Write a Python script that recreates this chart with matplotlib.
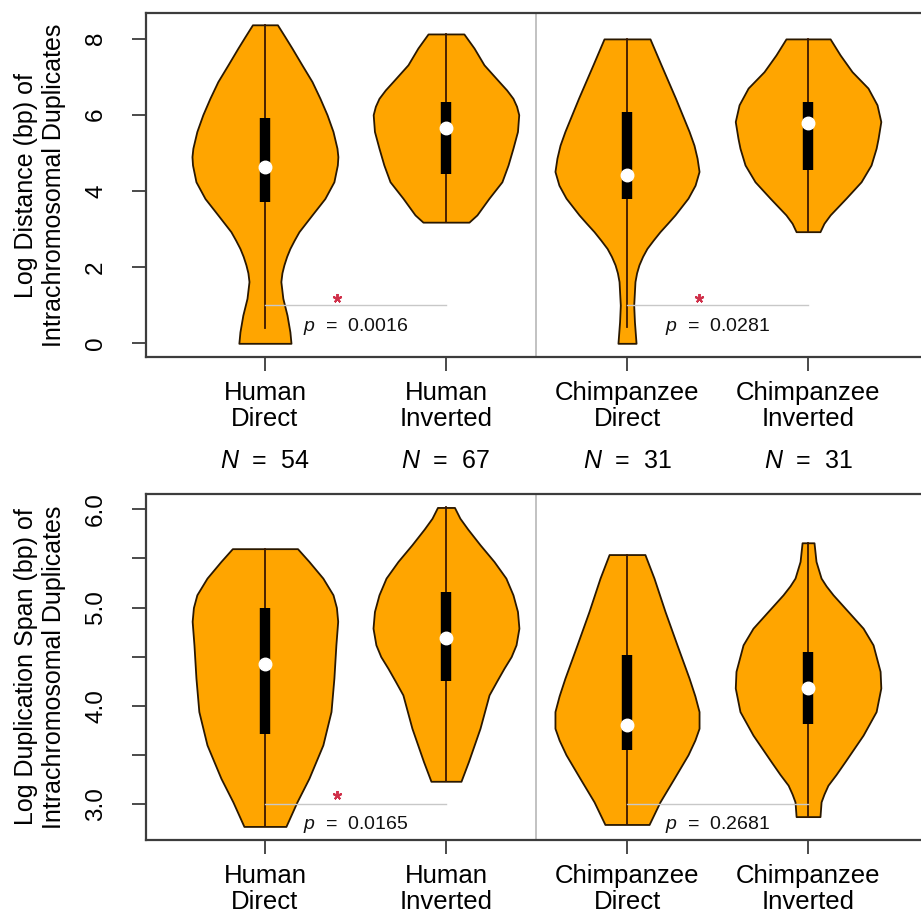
import numpy as np
import matplotlib.pyplot as plt
from matplotlib import transforms

plt.rcParams['font.family'] = ['Liberation Sans', 'DejaVu Sans']
plt.rcParams['mathtext.fontset'] = 'custom'
plt.rcParams['mathtext.it'] = 'Liberation Sans:italic'
plt.rcParams['mathtext.rm'] = 'Liberation Sans'

groups = ['Human\nDirect', 'Human\nInverted', 'Chimpanzee\nDirect', 'Chimpanzee\nInverted']
n_counts = [54, 67, 31, 31]
positions = [1, 2, 3, 4]

# --- log distance between duplicates: violin outlines (y, half width) ---
dist_hd_y = [0.0, 0.30, 0.74, 1.18, 1.62, 1.85, 2.06, 2.28, 2.49, 2.71, 2.93, 3.15, 3.37, 3.80, 4.24, 4.68, 4.90, 5.12, 5.56, 6.0, 6.43, 6.87, 7.31, 7.75, 8.05, 8.36]
dist_hd_w = [0.144, 0.138, 0.122, 0.099, 0.088, 0.094, 0.105, 0.12, 0.138, 0.162, 0.188, 0.224, 0.26, 0.331, 0.381, 0.400, 0.403, 0.398, 0.376, 0.343, 0.304, 0.26, 0.204, 0.149, 0.11, 0.069]
dist_hi_y = [3.18, 3.37, 3.81, 4.24, 4.68, 5.12, 5.56, 6.0, 6.22, 6.43, 6.65, 6.87, 7.31, 7.75, 8.12]
dist_hi_w = [0.127, 0.171, 0.238, 0.309, 0.343, 0.37, 0.395, 0.402, 0.39, 0.37, 0.335, 0.293, 0.21, 0.155, 0.099]
dist_cd_y = [0.0, 0.57, 1.0, 1.62, 1.85, 2.06, 2.28, 2.49, 2.71, 2.93, 3.15, 3.37, 3.81, 4.15, 4.51, 4.86, 5.2, 5.56, 6.43, 7.31, 7.99]
dist_cd_w = [0.05, 0.041, 0.037, 0.044, 0.053, 0.066, 0.086, 0.11, 0.145, 0.182, 0.224, 0.265, 0.337, 0.376, 0.398, 0.387, 0.37, 0.343, 0.268, 0.188, 0.127]
dist_ci_y = [2.93, 3.15, 3.37, 3.81, 4.24, 4.68, 5.12, 5.38, 5.82, 6.26, 6.70, 7.13, 7.57, 7.99]
dist_ci_w = [0.066, 0.088, 0.122, 0.21, 0.293, 0.348, 0.376, 0.387, 0.402, 0.381, 0.331, 0.243, 0.177, 0.122]

dist_q1 = [3.70, 4.44, 3.79, 4.55]
dist_med = [4.64, 5.65, 4.42, 5.78]
dist_q3 = [5.91, 6.33, 6.08, 6.33]
dist_lo = [0.39, 3.18, 0.44, 2.93]
dist_hi = [8.36, 8.12, 7.99, 7.99]
dist_p = ['0.0016', '0.0281']
dist_signif = [True, True]

# --- log duplication span ---
span_hd_y = [2.77, 3.02, 3.26, 3.60, 3.94, 4.28, 4.62, 4.86, 5.00, 5.13, 5.30, 5.47, 5.60]
span_hd_w = [0.116, 0.177, 0.243, 0.32, 0.365, 0.381, 0.392, 0.402, 0.395, 0.376, 0.32, 0.243, 0.18]
span_hi_y = [3.23, 3.43, 3.77, 4.11, 4.25, 4.38, 4.50, 4.62, 4.79, 4.96, 5.13, 5.30, 5.47, 5.64, 5.80, 5.91, 6.02]
span_hi_w = [0.083, 0.124, 0.188, 0.238, 0.28, 0.32, 0.36, 0.387, 0.403, 0.395, 0.37, 0.331, 0.265, 0.188, 0.12, 0.077, 0.047]
span_cd_y = [2.79, 3.02, 3.26, 3.50, 3.65, 3.77, 3.94, 4.10, 4.28, 4.62, 4.96, 5.30, 5.54]
span_cd_w = [0.122, 0.182, 0.26, 0.337, 0.375, 0.398, 0.398, 0.375, 0.343, 0.276, 0.21, 0.149, 0.099]
span_ci_y = [2.87, 3.02, 3.10, 3.19, 3.30, 3.43, 3.70, 3.94, 4.18, 4.35, 4.62, 4.79, 4.96, 5.13, 5.22, 5.30, 5.47, 5.66]
span_ci_w = [0.066, 0.072, 0.088, 0.11, 0.155, 0.204, 0.304, 0.376, 0.402, 0.398, 0.359, 0.304, 0.221, 0.138, 0.1, 0.072, 0.044, 0.033]

span_q1 = [3.71, 4.25, 3.55, 3.81]
span_med = [4.43, 4.69, 3.80, 4.18]
span_q3 = [5.00, 5.16, 4.52, 4.55]
span_lo = [2.77, 3.23, 2.79, 2.87]
span_hi = [5.60, 6.02, 5.54, 5.66]
span_p = ['0.0165', '0.2681']
span_signif = [True, False]

fill = '#FFA500'
edge = '#2a1800'


def draw_panel(ax, shapes, q1, med, q3, lo, hi, pvals, signif, bar_y, p_y, star_y):
    for pos, (ys, ws) in zip(positions, shapes):
        ys = np.array(ys)
        ws = np.array(ws)
        ax.fill_betweenx(ys, pos - ws, pos + ws, facecolor=fill, edgecolor=edge, lw=1.3,
                         joinstyle='round', zorder=2)
    for i, pos in enumerate(positions):
        ax.plot([pos, pos], [lo[i], hi[i]], color='#3a1800', lw=1.3, zorder=3)
        ax.plot([pos, pos], [q1[i], q3[i]], color='black', lw=7.5, solid_capstyle='butt', zorder=4)
        ax.plot(pos, med[i], 'o', color='white', ms=9, mec='white', zorder=5)
    # comparison brackets between direct and inverted
    for k, (a, b) in enumerate([(1, 2), (3, 4)]):
        ax.plot([a, b], [bar_y, bar_y], color='#c8c8c8', lw=1.0, zorder=6)
        ax.text((a + b) / 2, p_y, r'$\it{p}$  =  ' + pvals[k], ha='center', va='center',
                fontsize=14, color='#111111', zorder=7)
        if signif[k]:
            ax.plot(a + 0.4, star_y, marker=(5, 2, 0), color='#d0304a', ms=6.5, mew=1.4, zorder=7)
    ax.axvline(2.5, color='#bdbdbd', lw=1.3, zorder=1)
    ax.set_xlim(0.343, 4.657)
    ax.set_xticks(positions)
    ax.set_xticklabels(groups, fontsize=18.5, linespacing=1.15)
    for s in ax.spines.values():
        s.set_color('#3c3c3c')
        s.set_linewidth(1.6)
    ax.tick_params(axis='both', length=10, width=1.3, color='#3c3c3c')
    ax.tick_params(axis='x', pad=7)
    ax.tick_params(axis='y', labelrotation=90, labelsize=17.5, pad=18)


fig = plt.figure(figsize=(9.21, 9.15), dpi=100)
ax1 = fig.add_axes([0.1585, 0.6098, 0.848, 0.376])
ax2 = fig.add_axes([0.1585, 0.082, 0.848, 0.378])

draw_panel(ax1,
           [(dist_hd_y, dist_hd_w), (dist_hi_y, dist_hi_w), (dist_cd_y, dist_cd_w), (dist_ci_y, dist_ci_w)],
           dist_q1, dist_med, dist_q3, dist_lo, dist_hi, dist_p, dist_signif,
           bar_y=1.0, p_y=0.44, star_y=1.2)
ax1.set_ylim(-0.36, 8.67)
ax1.set_yticks([0, 2, 4, 6, 8])

draw_panel(ax2,
           [(span_hd_y, span_hd_w), (span_hi_y, span_hi_w), (span_cd_y, span_cd_w), (span_ci_y, span_ci_w)],
           span_q1, span_med, span_q3, span_lo, span_hi, span_p, span_signif,
           bar_y=3.0, p_y=2.79, star_y=3.09)
ax2.set_ylim(2.632, 6.156)
ax2.set_yticks(np.arange(3.0, 6.01, 0.5))
ax2.set_yticklabels(['3.0', '', '4.0', '', '5.0', '', '6.0'])

for ax in (ax1, ax2):
    for lab in ax.get_yticklabels():
        lab.set_va('center')

# sample sizes between the panels
trans = transforms.blended_transform_factory(ax2.transData, ax2.transAxes)
for pos, n in zip(positions, n_counts):
    ax2.text(pos, 1.095, r'$\it{N}$  =  ' + str(n), transform=trans, ha='center', va='center',
             fontsize=18, clip_on=False)

fig.text(40 / 921, 1 - 185 / 915, 'Log Distance (bp) of\nIntrachromosomal Duplicates',
         rotation=90, ha='center', va='center', fontsize=18, linespacing=1.25)
fig.text(40 / 921, 1 - 667 / 915, 'Log Duplication Span (bp) of\nIntrachromosomal Duplicates',
         rotation=90, ha='center', va='center', fontsize=18, linespacing=1.25)

fig.savefig('out.png', dpi=100)
